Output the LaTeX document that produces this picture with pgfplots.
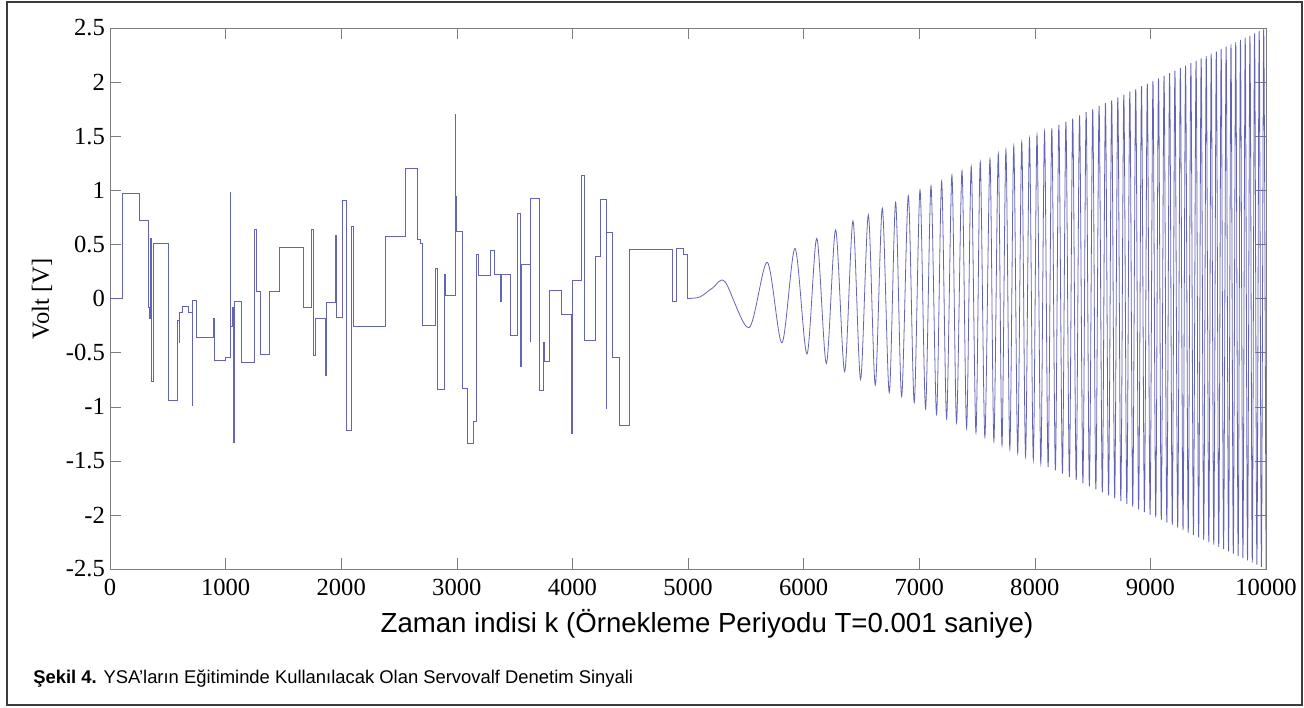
\documentclass[border=0pt]{standalone}
\usepackage{fontspec}
\setmainfont{Liberation Serif}
\newfontfamily\arialf{Liberation Sans}
\usepackage{pgfplots}
\pgfplotsset{compat=1.18}
\definecolor{sig}{RGB}{100,100,182}
\definecolor{axgray}{RGB}{125,125,125}
\definecolor{framegray}{RGB}{60,60,60}

\begin{document}
\begin{tikzpicture}
\useasboundingbox (0,0) rectangle (652pt,353.5pt);
\draw[framegray, line width=1pt] (3.5pt,1pt) rectangle (651pt,352.7pt);
\begin{axis}[
    at={(55pt,69pt)}, anchor=south west,
    scale only axis, width=578pt, height=270.5pt,
    xmin=0, xmax=10000, ymin=-2.5, ymax=2.5,
    xtick={0,1000,2000,3000,4000,5000,6000,7000,8000,9000,10000},
    ytick={-2.5,-2,-1.5,-1,-0.5,0,0.5,1,1.5,2,2.5},
    yticklabels={-2.5,-2,-1.5,-1,-0.5,0,0.5,1,1.5,2,2.5},
    scaled ticks=false,
    /pgf/number format/1000 sep={},
    /pgf/number format/assume math mode=true,
    ticklabel style={font=\fontsize{12.3}{14}\selectfont, text=black},
    xticklabel style={yshift=-1.5pt},
    yticklabel style={xshift=1pt},
    tick align=inside,
    xtick pos=both, ytick pos=both,
    major tick length=5.7pt,
    axis line style={axgray},
    tick style={axgray},
    no markers,
]
% step part of the excitation signal
\addplot[sig, line width=0.4pt, const plot] coordinates {
    (0,0) (110,0.97) (254,0.72) (335,-0.08) (345,-0.18) (349,0.56)
    (356,-0.77) (375,0.51) (507,-0.94) (580,-0.20) (600,-0.41)
    (603,-0.125) (630,-0.07) (681,-0.125) (709,-0.99) (712,-0.02)
    (744,-0.36) (895,-0.18) (899,-0.36) (904,-0.57) (998,-0.54)
    (1038,0.98) (1045,-0.26) (1055,-0.08) (1064,-1.33) (1075,-0.03)
    (1133,-0.59) (1246,0.64) (1263,0.07) (1303,-0.52) (1378,0.07)
    (1462,0.47) (1672,-0.08) (1739,0.64) (1756,-0.53) (1773,-0.18)
    (1866,-0.71) (1870,-0.04) (1952,0.58) (1958,0.52) (1962,-0.17)
    (2009,0.91) (2044,-1.22) (2087,0.67) (2105,-0.26) (2381,0.57)
    (2552,1.20) (2658,0.55) (2683,0.51) (2699,-0.245) (2814,0.28)
    (2835,-0.84) (2892,0.226) (2900,0.03) (2987,1.70) (2992,0.94)
    (3000,0.617) (3051,-0.83) (3091,-1.338) (3143,-1.138) (3167,0.408)
    (3190,0.21) (3287,0.448) (3328,0.226) (3379,-0.03) (3384,0.226)
    (3460,-0.344) (3523,0.787) (3547,-0.63) (3555,0.316) (3633,-0.40)
    (3640,0.926) (3713,-0.85) (3748,-0.405) (3755,-0.58) (3800,0.078)
    (3906,-0.15) (3994,-1.246) (4003,0.17) (4080,1.141) (4100,-0.39)
    (4195,0.386) (4244,0.92) (4290,-1.015) (4296,0.608) (4345,-0.544)
    (4406,-1.169) (4492,0.455) (4862,-0.03) (4902,0.46) (4960,0.41)
    (4994,0) (5000,0)
};
% chirp part (peaks and troughs)
\addplot[sig, line width=0.4pt, smooth] coordinates {
    (5000,0) (5104,0.015) (5216,0.1) (5320,0.155) (5528,-0.27) (5686,0.335)
    (5813,-0.41) (5926,0.464) (6029,-0.513) (6114,0.556) (6197,-0.6)
    (6277,0.633) (6355,-0.676) (6427,0.716) (6493,-0.747) (6560,0.772)
    (6620,-0.80) (6681,0.834) (6741,-0.87) (6796,0.889) (6848,-0.907)
    (6906,0.95) (6957,-0.96) (7007,1.003) (7055,-1.02) (7102,1.04)
    (7150,-1.07) (7194,1.085) (7237,-1.11) (7283,1.14) (7323,-1.15)
    (7370,1.18) (7410,-1.2) (7450,1.22) (7491,-1.24) (7528,1.262)
    (7568,-1.28) (7612,1.29) (7646,-1.319) (7684,1.338) (7716,-1.356)
    (7750,1.374) (7784,-1.391) (7818,1.409) (7852,-1.426) (7887,1.443)
    (7920,-1.460) (7954,1.477) (7987,-1.493) (8019,1.510) (8052,-1.526)
    (8084,1.542) (8115,-1.558) (8147,1.573) (8178,-1.589) (8208,1.604)
    (8239,-1.619) (8269,1.634) (8299,-1.649) (8328,1.664) (8358,-1.679)
    (8387,1.693) (8416,-1.708) (8444,1.722) (8472,-1.736) (8501,1.750)
    (8528,-1.764) (8556,1.778) (8584,-1.792) (8611,1.805) (8638,-1.819)
    (8665,1.832) (8691,-1.846) (8718,1.859) (8744,-1.872) (8770,1.885)
    (8796,-1.898) (8822,1.911) (8847,-1.924) (8873,1.936) (8898,-1.949)
    (8923,1.962) (8948,-1.974) (8973,1.986) (8997,-1.999) (9022,2.011)
    (9046,-2.023) (9070,2.035) (9094,-2.047) (9118,2.059) (9142,-2.071)
    (9166,2.083) (9189,-2.095) (9212,2.106) (9236,-2.118) (9259,2.129)
    (9282,-2.141) (9304,2.152) (9327,-2.164) (9350,2.175) (9372,-2.186)
    (9395,2.197) (9417,-2.208) (9439,2.219) (9461,-2.230) (9483,2.241)
    (9505,-2.252) (9526,2.263) (9548,-2.274) (9570,2.285) (9591,-2.295)
    (9612,2.306) (9633,-2.317) (9655,2.327) (9676,-2.338) (9697,2.348)
    (9717,-2.359) (9738,2.369) (9759,-2.379) (9779,2.390) (9800,-2.400)
    (9820,2.410) (9840,-2.420) (9861,2.430) (9881,-2.440) (9901,2.450)
    (9921,-2.460) (9941,2.470) (9960,-2.480) (9980,2.490) (10000,-2.500)
};
\end{axis}
\node[rotate=90, inner sep=0, font=\fontsize{12.3}{14}\selectfont] at (21pt,204pt) {Volt [V]};
\node[anchor=base, inner sep=0, font=\arialf\fontsize{13.8}{16}\selectfont] at (353.5pt,37.5pt)
    {Zaman indisi k (Örnekleme Periyodu T=0.001 saniye)};
\node[anchor=base west, inner sep=0, font=\arialf\fontsize{9.2}{11}\selectfont] at (16.5pt,11.8pt)
    {\textbf{Şekil 4.} YSA’ların Eğitiminde Kullanılacak Olan Servovalf Denetim Sinyali};
\end{tikzpicture}
\end{document}
